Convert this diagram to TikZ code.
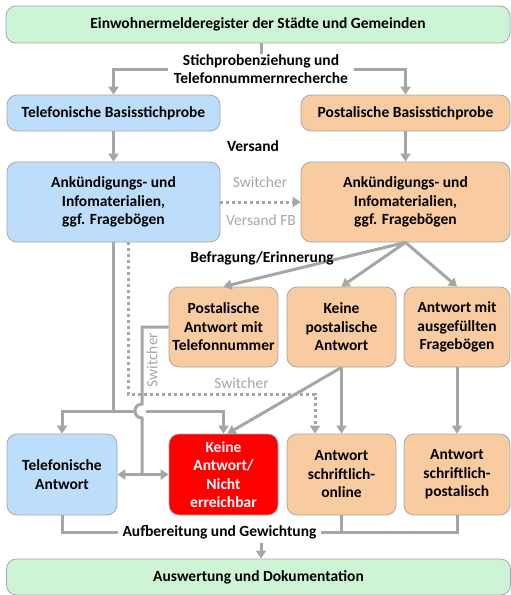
\documentclass[tikz,border=0pt]{standalone}
\usepackage{fontspec}
\setmainfont{Carlito}
\usetikzlibrary{arrows.meta}
\definecolor{lgreen}{HTML}{CDF4D5}
\definecolor{lblue}{HTML}{BDDEFB}
\definecolor{lorange}{HTML}{F8CBA0}
\definecolor{lred}{HTML}{FF0000}
\definecolor{lnc}{HTML}{A6A6A6}
\definecolor{bdc}{HTML}{A8A8A8}
\begin{document}
\begin{tikzpicture}[x=1pt,y=-1pt,
  box/.style={draw=bdc, line width=0.8pt, rounded corners=10pt, align=center,
    font=\fontsize{15.5}{18.5}\selectfont\bfseries, inner sep=0pt, text=black},
  lbl/.style={align=center, font=\fontsize{15.5}{18}\selectfont\bfseries, inner sep=0pt},
  glbl/.style={align=center, font=\fontsize{15.5}{18}\selectfont, text=lnc, inner sep=0pt},
  conn/.style={draw=lnc, line width=3pt},
  arr/.style={conn, -{Triangle[width=10pt,length=8pt]}},
  dblarr/.style={conn, {Triangle[width=10pt,length=8pt]}-{Triangle[width=10pt,length=8pt]}},
  dotarr/.style={conn, dash pattern=on 3pt off 3pt, -{Triangle[width=10pt,length=8pt]}},
]
\useasboundingbox (0,0) rectangle (511,595);

% nodes
\node[box, fill=lgreen, minimum width=504, minimum height=37] (top) at (258,24.5) {Einwohnermelderegister der Städte und Gemeinden};
\node[box, fill=lblue, minimum width=213, minimum height=36] (telbasis) at (113.5,113) {Telefonische Basisstichprobe};
\node[box, fill=lorange, minimum width=209, minimum height=36] (postbasis) at (405.5,113) {Postalische Basisstichprobe};
\node[box, fill=lblue, minimum width=213, minimum height=80] (ankL) at (113.5,202) {Ankündigungs- und\\Infomaterialien,\\ggf. Fragebögen};
\node[box, fill=lorange, minimum width=209, minimum height=80] (ankR) at (405.5,202) {Ankündigungs- und\\Infomaterialien,\\ggf. Fragebögen};
\node[box, fill=lorange, minimum width=109, minimum height=80] (pmt) at (223.5,327) {Postalische\\Antwort mit\\Telefonnummer};
\node[box, fill=lorange, minimum width=109, minimum height=80] (kpa) at (341.5,327) {Keine\\postalische\\Antwort};
\node[box, fill=lorange, minimum width=106, minimum height=80] (amf) at (457,327) {Antwort mit\\ausgefüllten\\Fragebögen};
\node[box, fill=lblue, minimum width=110, minimum height=81] (telA) at (62,474.5) {Telefonische\\Antwort};
\node[box, fill=lred, text=white, minimum width=109, minimum height=81] (kna) at (223.5,474.5) {Keine\\Antwort/\\Nicht\\erreichbar};
\node[box, fill=lorange, minimum width=109, minimum height=81] (aso) at (341.5,474.5) {Antwort\\schriftlich-\\online};
\node[box, fill=lorange, minimum width=106, minimum height=81] (asp) at (457,474.5) {Antwort\\schriftlich-\\postalisch};
\node[box, fill=lgreen, minimum width=504, minimum height=36] (ausw) at (258.5,577) {Auswertung und Dokumentation};

% labels
\node[lbl] (stich) at (261,69) {Stichprobenziehung und\\Telefonnummernrecherche};
\node[lbl] (versand) at (253,146) {Versand};
\node[glbl] (sw1) at (260,182) {Switcher};
\node[glbl] (vfb) at (261,220) {Versand FB};
\node[glbl] (sw2) at (241.5,383) {Switcher};
\node[glbl, rotate=90] (sw3) at (152,360) {Switcher};
\node[lbl] (aufb) at (219.5,532) {Aufbereitung und Gewichtung};

% connectors
\draw[conn] (top.south -| stich.north) -- (stich.north);
\draw[arr] ([xshift=-6pt]stich.west) -| (telbasis);
\draw[arr] ([xshift=6pt]stich.east) -| (postbasis);
\draw[arr] (telbasis) -- (ankL);
\draw[arr] (postbasis) -- (ankR);
\draw[dotarr] (ankL) -- (ankR);
\draw[arr] (ankR.south) -- (pmt.north);
\draw[arr] (ankR.south) -- (kpa.north);
\draw[arr] (ankR.south) -- (amf.north);

% telephone path
\coordinate (tj) at (113.5,411);
\draw[conn] (ankL.south) -- (tj);
\draw[arr] (135,411) -| (telA);
\draw[arr] (146,411) -| (kna);
% switcher path with hop
\draw[conn] (pmt.west) -- (142,327) -- (142,404) .. controls (132.7,404) and (132.7,418) .. (142,418) -- (142,474.5);
\draw[dblarr] (telA) -- (kna);
% dotted switcher
\draw[dotarr] (ankL.south -| 128,0) -- (128,394) -| (aso.north -| 315,0);

\draw[arr] (kpa) -- (aso);
\draw[arr] (kpa.south) -- ([xshift=4pt]kna.north);
\node[lbl] at (262,258) {Befragung/Erinnerung};
\draw[arr] (amf) -- (asp);

% bottom collection
\draw[conn] (telA) |- ([xshift=-4pt]aufb.west);
\draw[conn] (asp) |- ([xshift=4pt]aufb.east);
\draw[conn] (aso.south) -- (aso.south |- aufb.center);
\coordinate (dn) at (261,543);
\draw[arr] (dn) -- (dn |- ausw.north);
\end{tikzpicture}
\end{document}
